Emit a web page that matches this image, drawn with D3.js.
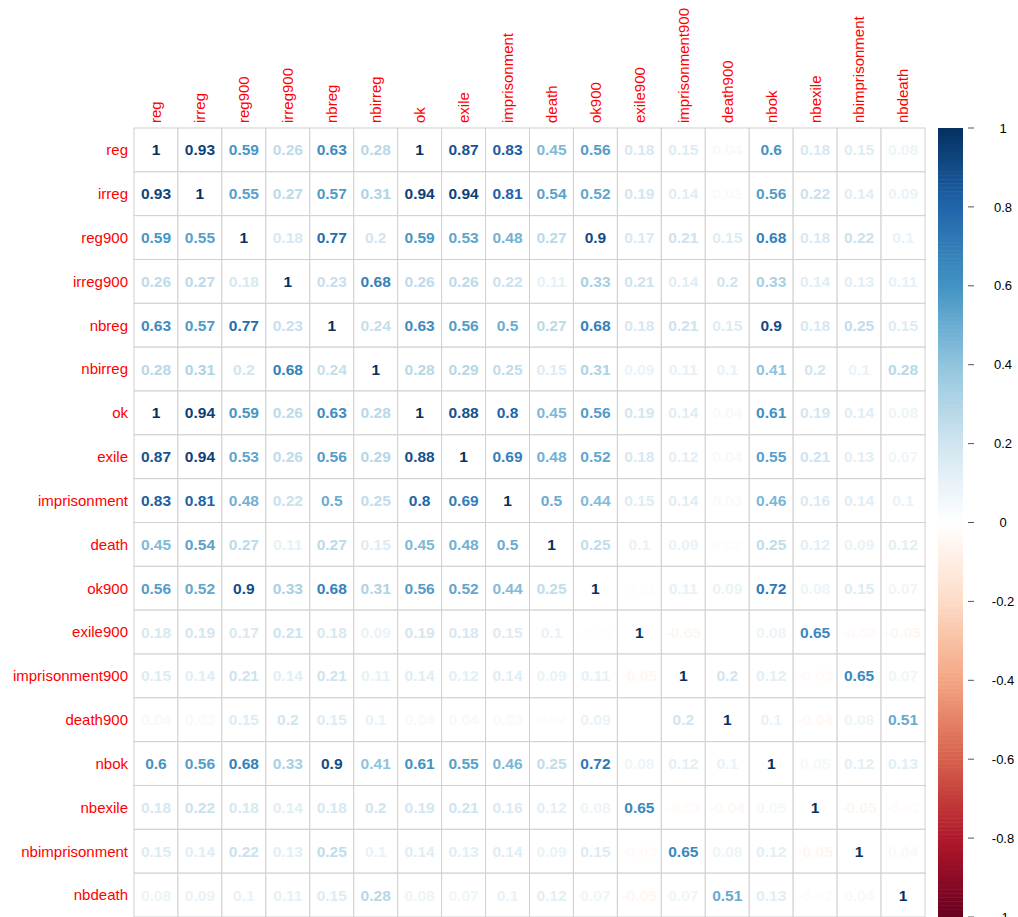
<!DOCTYPE html>
<html>
<head>
<meta charset="utf-8">
<script src="https://cdn.jsdelivr.net/npm/d3@7"></script>
<style>
body { margin: 0; background: #fff; }
svg { font-family: "Liberation Sans", Arial, sans-serif; }
</style>
</head>
<body>
<div id="chart"></div>
<script>
const vars = ["reg", "irreg", "reg900", "irreg900", "nbreg", "nbirreg", "ok", "exile",
  "imprisonment", "death", "ok900", "exile900", "imprisonment900", "death900",
  "nbok", "nbexile", "nbimprisonment", "nbdeath"];

// correlation matrix, row by row
const corr = [
  [1, 0.93, 0.59, 0.26, 0.63, 0.28, 1, 0.87, 0.83, 0.45, 0.56, 0.18, 0.15, 0.04, 0.6, 0.18, 0.15, 0.08],
  [0.93, 1, 0.55, 0.27, 0.57, 0.31, 0.94, 0.94, 0.81, 0.54, 0.52, 0.19, 0.14, 0.03, 0.56, 0.22, 0.14, 0.09],
  [0.59, 0.55, 1, 0.18, 0.77, 0.2, 0.59, 0.53, 0.48, 0.27, 0.9, 0.17, 0.21, 0.15, 0.68, 0.18, 0.22, 0.1],
  [0.26, 0.27, 0.18, 1, 0.23, 0.68, 0.26, 0.26, 0.22, 0.11, 0.33, 0.21, 0.14, 0.2, 0.33, 0.14, 0.13, 0.11],
  [0.63, 0.57, 0.77, 0.23, 1, 0.24, 0.63, 0.56, 0.5, 0.27, 0.68, 0.18, 0.21, 0.15, 0.9, 0.18, 0.25, 0.15],
  [0.28, 0.31, 0.2, 0.68, 0.24, 1, 0.28, 0.29, 0.25, 0.15, 0.31, 0.09, 0.11, 0.1, 0.41, 0.2, 0.1, 0.28],
  [1, 0.94, 0.59, 0.26, 0.63, 0.28, 1, 0.88, 0.8, 0.45, 0.56, 0.19, 0.14, 0.04, 0.61, 0.19, 0.14, 0.08],
  [0.87, 0.94, 0.53, 0.26, 0.56, 0.29, 0.88, 1, 0.69, 0.48, 0.52, 0.18, 0.12, 0.04, 0.55, 0.21, 0.13, 0.07],
  [0.83, 0.81, 0.48, 0.22, 0.5, 0.25, 0.8, 0.69, 1, 0.5, 0.44, 0.15, 0.14, 0.03, 0.46, 0.16, 0.14, 0.1],
  [0.45, 0.54, 0.27, 0.11, 0.27, 0.15, 0.45, 0.48, 0.5, 1, 0.25, 0.1, 0.09, 0.02, 0.25, 0.12, 0.09, 0.12],
  [0.56, 0.52, 0.9, 0.33, 0.68, 0.31, 0.56, 0.52, 0.44, 0.25, 1, -0.01, 0.11, 0.09, 0.72, 0.08, 0.15, 0.07],
  [0.18, 0.19, 0.17, 0.21, 0.18, 0.09, 0.19, 0.18, 0.15, 0.1, -0.01, 1, -0.05, 0, 0.08, 0.65, -0.03, -0.05],
  [0.15, 0.14, 0.21, 0.14, 0.21, 0.11, 0.14, 0.12, 0.14, 0.09, 0.11, -0.05, 1, 0.2, 0.12, -0.03, 0.65, 0.07],
  [0.04, 0.03, 0.15, 0.2, 0.15, 0.1, 0.04, 0.04, 0.03, 0.02, 0.09, 0, 0.2, 1, 0.1, -0.04, 0.08, 0.51],
  [0.6, 0.56, 0.68, 0.33, 0.9, 0.41, 0.61, 0.55, 0.46, 0.25, 0.72, 0.08, 0.12, 0.1, 1, 0.05, 0.12, 0.13],
  [0.18, 0.22, 0.18, 0.14, 0.18, 0.2, 0.19, 0.21, 0.16, 0.12, 0.08, 0.65, -0.03, -0.04, 0.05, 1, -0.05, -0.02],
  [0.15, 0.14, 0.22, 0.13, 0.25, 0.1, 0.14, 0.13, 0.14, 0.09, 0.15, -0.03, 0.65, 0.08, 0.12, -0.05, 1, 0.04],
  [0.08, 0.09, 0.1, 0.11, 0.15, 0.28, 0.08, 0.07, 0.1, 0.12, 0.07, -0.05, 0.07, 0.51, 0.13, -0.02, 0.04, 1]
];

const legendTicks = [1, 0.8, 0.6, 0.4, 0.2, 0, -0.2, -0.4, -0.6, -0.8, -1];

// corrplot's default palette
const palette = ["#67001F", "#B2182B", "#D6604D", "#F4A582", "#FDDBC7", "#FFFFFF",
  "#D1E5F0", "#92C5DE", "#4393C3", "#2166AC", "#053061"];

const width = 1018, height = 917;
const mLeft = 134, mRight = 925, mTop = 128, mBottom = 917;

const svg = d3.select("#chart").append("svg")
  .attr("width", width)
  .attr("height", height);

const x = d3.scaleBand().domain(vars).range([mLeft, mRight]);
const y = d3.scaleBand().domain(vars).range([mTop, mBottom]);
const color = d3.scaleLinear()
  .domain(d3.range(11).map(i => -1 + i * 0.2))
  .range(palette);

const cells = [];
corr.forEach((row, i) => row.forEach((v, j) => cells.push({ r: vars[i], c: vars[j], v: v })));

// grid
svg.append("g").selectAll("rect")
  .data(cells)
  .join("rect")
  .attr("x", d => x(d.c))
  .attr("y", d => y(d.r))
  .attr("width", x.bandwidth())
  .attr("height", y.bandwidth())
  .attr("fill", "#fff")
  .attr("stroke", "#d0d0d0")
  .attr("stroke-width", 1);

// numbers
svg.append("g").selectAll("text")
  .data(cells)
  .join("text")
  .attr("x", d => x(d.c) + x.bandwidth() / 2)
  .attr("y", d => y(d.r) + y.bandwidth() / 2)
  .attr("dy", "0.36em")
  .attr("text-anchor", "middle")
  .attr("font-size", 15.5)
  .attr("font-weight", "bold")
  .attr("fill", d => color(d.v))
  .text(d => String(d.v));

// row labels
svg.append("g").selectAll("text")
  .data(vars)
  .join("text")
  .attr("x", mLeft - 6)
  .attr("y", d => y(d) + y.bandwidth() / 2)
  .attr("dy", "0.36em")
  .attr("text-anchor", "end")
  .attr("font-size", 15)
  .attr("fill", "#FF0000")
  .text(d => d);

// column labels
svg.append("g").selectAll("text")
  .data(vars)
  .join("text")
  .attr("transform", d => "translate(" + (x(d) + x.bandwidth() / 2) + "," + (mTop - 5) + ") rotate(-90)")
  .attr("dy", "0.36em")
  .attr("text-anchor", "start")
  .attr("font-size", 15)
  .attr("fill", "#FF0000")
  .text(d => d);

// color legend
const barX = 938, barW = 25;
const ly = d3.scaleLinear().domain([1, -1]).range([mTop, mBottom]);
const steps = d3.range(200).map(i => -1 + (i + 0.5) * 0.01);
svg.append("g").selectAll("rect")
  .data(steps)
  .join("rect")
  .attr("x", barX)
  .attr("y", d => ly(d + 0.005))
  .attr("width", barW)
  .attr("height", ly(-0.005) - ly(0.005) + 0.5)
  .attr("fill", d => color(d));

const lg = svg.append("g");
lg.selectAll("line")
  .data(legendTicks)
  .join("line")
  .attr("x1", barX + barW + 5)
  .attr("x2", barX + barW + 11)
  .attr("y1", d => ly(d))
  .attr("y2", d => ly(d))
  .attr("stroke", "#555");
lg.selectAll("text")
  .data(legendTicks)
  .join("text")
  .attr("x", 1003)
  .attr("y", d => ly(d))
  .attr("dy", "0.36em")
  .attr("text-anchor", "middle")
  .attr("font-size", 13)
  .attr("fill", "#000")
  .text(d => d);
</script>
</body>
</html>
